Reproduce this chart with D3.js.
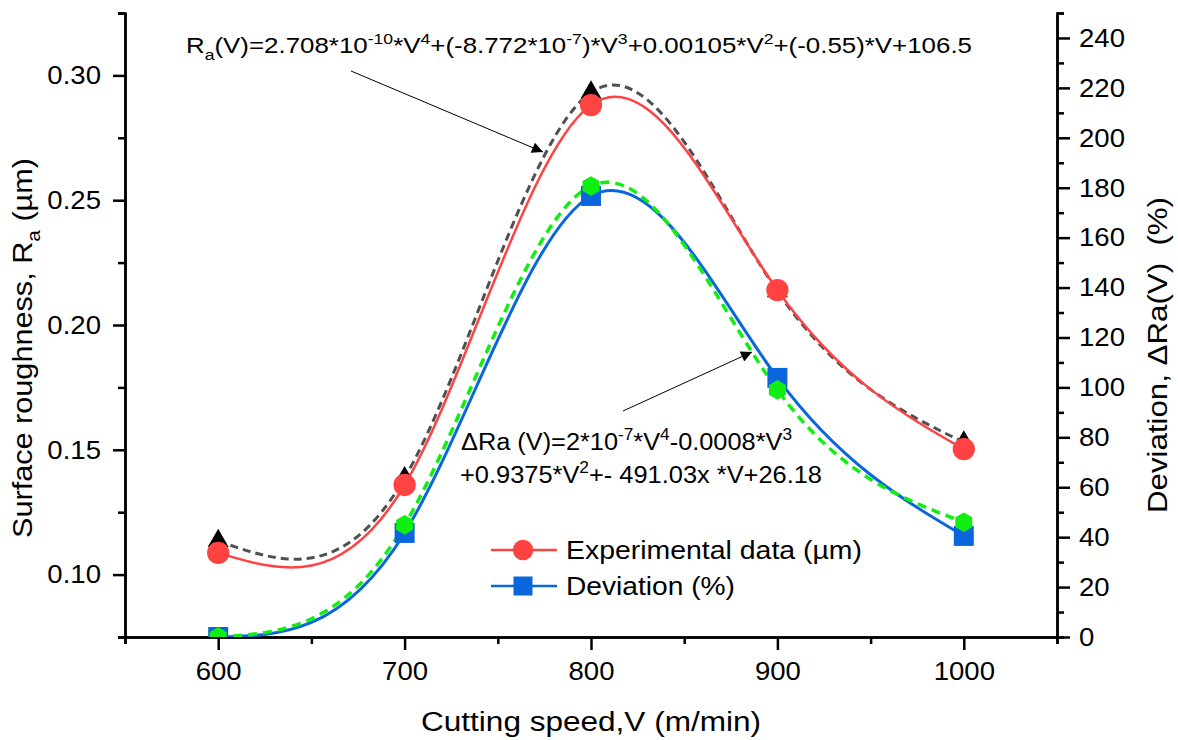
<!DOCTYPE html>
<html>
<head>
<meta charset="utf-8">
<script src="https://cdn.jsdelivr.net/npm/d3@7"></script>
<style>
  body { margin: 0; background: #fff; }
  svg { display: block; }
  text { font-family: "Liberation Sans", Arial, sans-serif; fill: #000; }
</style>
</head>
<body>
<svg id="chart" width="1178" height="740"></svg>
<script>
// cutting speed (m/min)
const speeds = [600, 700, 800, 900, 1000];
// surface roughness, experimental (red) and fitted (black dashed)
const raExp = [0.1087, 0.1359, 0.2881, 0.2140, 0.1503];
const raFit = [0.1135, 0.1387, 0.2932, 0.2135, 0.1530];
// deviation (%), measured (blue) and fitted (green dashed)
const devExp = [0, 41.7, 176.7, 103.8, 40.5];
const devFit = [0, 44.9, 180.7, 99.0, 46.0];

const xTicks = [600, 700, 800, 900, 1000];
const yLeftTicks = [0.10, 0.15, 0.20, 0.25, 0.30];
const yRightTicks = d3.range(0, 241, 20);

const svg = d3.select("#chart");
const M = {left: 125, right: 1057, top: 13, bottom: 637};

const x = d3.scaleLinear().domain([550, 1050]).range([M.left, M.right]);
const yL = d3.scaleLinear().domain([0.075, 0.325]).range([M.bottom, M.top]);
const yR = d3.scaleLinear().domain([0, 250]).range([M.bottom, M.top]);

const FONT = 26;

// stretch text a little, the source picture is wider than plain Arial
function widen(sel, k) {
  sel.each(function() {
    const w = this.getComputedTextLength();
    d3.select(this).attr("textLength", w * k).attr("lengthAdjust", "spacingAndGlyphs");
  });
}

// text with sub/superscripts, segs = [[text, "sup"|"sub"|null], ...]
function rich(textSel, segs, size) {
  let off = 0;
  segs.forEach(([t, mode]) => {
    const target = mode === "sup" ? -0.42 * size : mode === "sub" ? 0.3 * size : 0;
    textSel.append("tspan")
      .attr("dy", target - off)
      .style("font-size", mode ? (size * 0.68) + "px" : size + "px")
      .text(t);
    off = target;
  });
  return textSel;
}

svg.append("defs").append("clipPath").attr("id", "plot")
  .append("rect")
  .attr("x", M.left).attr("y", M.top)
  .attr("width", M.right - M.left).attr("height", M.bottom - M.top);

// ---- axes
const axisG = svg.append("g").attr("class", "axes");

const gx = axisG.append("g").attr("transform", `translate(0,${M.bottom})`)
  .call(d3.axisBottom(x).tickValues(xTicks).tickSizeInner(13).tickSizeOuter(0).tickPadding(12)
    .tickFormat(d3.format("d")));
axisG.append("g").attr("transform", `translate(0,${M.bottom})`)
  .call(d3.axisBottom(x).tickValues(d3.range(550, 1051, 100)).tickSize(7).tickFormat(""));

const gyL = axisG.append("g").attr("transform", `translate(${M.left},0)`)
  .call(d3.axisLeft(yL).tickValues(yLeftTicks).tickSizeInner(12).tickSizeOuter(0).tickPadding(12)
    .tickFormat(d3.format(".2f")));
axisG.append("g").attr("transform", `translate(${M.left},0)`)
  .call(d3.axisLeft(yL).tickValues([0.075, 0.125, 0.175, 0.225, 0.275, 0.325]).tickSize(7).tickFormat(""));

const gyR = axisG.append("g").attr("transform", `translate(${M.right},0)`)
  .call(d3.axisRight(yR).tickValues(yRightTicks).tickSizeInner(13).tickSizeOuter(0).tickPadding(9)
    .tickFormat(d3.format("d")));
axisG.append("g").attr("transform", `translate(${M.right},0)`)
  .call(d3.axisRight(yR).tickValues(d3.range(10, 251, 20)).tickSize(7).tickFormat(""));

axisG.selectAll("path.domain, .tick line").attr("stroke", "#000").attr("stroke-width", 2.5);
axisG.selectAll(".tick text")
  .style("font-size", FONT + "px")
  .style("font-family", "'Liberation Sans', Arial, sans-serif")
  .attr("fill", "#000");
widen(axisG.selectAll(".tick text"), 1.06);

// ---- curves
const plot = svg.append("g").attr("clip-path", "url(#plot)");

const lineL = vals => d3.line().curve(d3.curveNatural)
  .x((d, i) => x(speeds[i])).y(d => yL(d))(vals);
const lineR = vals => d3.line().curve(d3.curveNatural)
  .x((d, i) => x(speeds[i])).y(d => yR(d))(vals);

plot.append("path").attr("d", lineL(raFit)).attr("fill", "none")
  .attr("stroke", "#505050").attr("stroke-width", 3).attr("stroke-dasharray", "8,5");
plot.append("path").attr("d", lineL(raExp)).attr("fill", "none")
  .attr("stroke", "#ff4242").attr("stroke-width", 2.5);
plot.append("path").attr("d", lineR(devExp)).attr("fill", "none")
  .attr("stroke", "#0a66dd").attr("stroke-width", 3);
plot.append("path").attr("d", lineR(devFit)).attr("fill", "none")
  .attr("stroke", "#11ee11").attr("stroke-width", 3.5).attr("stroke-dasharray", "9,6");

const hexagon = {
  draw(ctx, size) {
    const r = Math.sqrt(size / (1.5 * Math.sqrt(3)));
    for (let k = 0; k < 6; k++) {
      const a = Math.PI / 2 + k * Math.PI / 3;
      const px = r * Math.cos(a), py = -r * Math.sin(a);
      k ? ctx.lineTo(px, py) : ctx.moveTo(px, py);
    }
    ctx.closePath();
  }
};

function markers(vals, scale, type, size, color) {
  plot.append("g").selectAll("path").data(vals).join("path")
    .attr("transform", (d, i) => `translate(${x(speeds[i])},${scale(d)})`)
    .attr("d", d3.symbol().type(type).size(size)())
    .attr("fill", color);
}
markers(raFit, yL, d3.symbolTriangle, 190, "#000");
markers(raExp, yL, d3.symbolCircle, 390, "#ff4242");
markers(devExp, yR, d3.symbolSquare, 400, "#0a66dd");
markers(devFit, yR, hexagon, 250, "#11ee11");

// ---- titles
svg.append("text")
  .attr("x", 591).attr("y", 731).attr("text-anchor", "middle")
  .style("font-size", "27px")
  .attr("textLength", 340).attr("lengthAdjust", "spacingAndGlyphs")
  .text("Cutting speed,V (m/min)");

rich(svg.append("text")
  .attr("transform", "translate(32,348) rotate(-90)")
  .attr("text-anchor", "middle")
  .attr("textLength", 380).attr("lengthAdjust", "spacingAndGlyphs"),
  [["Surface roughness, R", null], ["a", "sub"], [" (µm)", null]], 27);

svg.append("text")
  .attr("transform", "translate(1167,355) rotate(-90)")
  .attr("text-anchor", "middle")
  .style("font-size", "27px").style("white-space", "pre")
  .attr("textLength", 316).attr("lengthAdjust", "spacingAndGlyphs")
  .text("Deviation, \u0394Ra(V)  (%)");

// ---- equations
rich(svg.append("text").attr("x", 186).attr("y", 53)
  .attr("textLength", 786).attr("lengthAdjust", "spacingAndGlyphs"),
  [["R", null], ["a", "sub"], ["(V)=2.708*10", null], ["-10", "sup"], ["*V", null], ["4", "sup"],
   ["+(-8.772*10", null], ["-7", "sup"], [")*V", null], ["3", "sup"], ["+0.00105*V", null], ["2", "sup"],
   ["+(-0.55)*V+106.5", null]], 22);

rich(svg.append("text").attr("x", 461).attr("y", 450)
  .attr("textLength", 331).attr("lengthAdjust", "spacingAndGlyphs"),
  [["\u0394Ra (V)=2*10", null], ["-7", "sup"], ["*V", null], ["4", "sup"], ["-0.0008*V", null], ["3", "sup"]], 23);

rich(svg.append("text").attr("x", 460).attr("y", 483)
  .attr("textLength", 362).attr("lengthAdjust", "spacingAndGlyphs"),
  [["+0.9375*V", null], ["2", "sup"], ["+- 491.03x *V+26.18", null]], 23);

// ---- arrows
const defs = svg.select("defs");
defs.append("marker").attr("id", "head")
  .attr("viewBox", "0 0 10 10").attr("refX", 10).attr("refY", 5)
  .attr("markerWidth", 18).attr("markerHeight", 11).attr("markerUnits", "userSpaceOnUse")
  .attr("orient", "auto")
  .append("path").attr("d", "M0,0L10,5L0,10Z").attr("fill", "#000");

const arrows = [
  [[351, 71], [543, 152]],
  [[623, 411], [752, 352]]
];
svg.append("g").selectAll("line").data(arrows).join("line")
  .attr("x1", d => d[0][0]).attr("y1", d => d[0][1])
  .attr("x2", d => d[1][0]).attr("y2", d => d[1][1])
  .attr("stroke", "#000").attr("stroke-width", 1)
  .attr("marker-end", "url(#head)");

// ---- legend
const legendItems = [
  {label: "Experimental data (µm)", color: "#ff4242", sym: d3.symbolCircle, size: 330, w: 296},
  {label: "Deviation (%)", color: "#0a66dd", sym: d3.symbolSquare, size: 361, w: 169}
];
const lg = svg.append("g").attr("transform", "translate(491,550)");
legendItems.forEach((it, i) => {
  const g = lg.append("g").attr("transform", `translate(0,${i * 36})`);
  g.append("line").attr("x1", 0).attr("x2", 66).attr("stroke", it.color).attr("stroke-width", 2.5);
  g.append("path").attr("transform", "translate(32,0)")
    .attr("d", d3.symbol().type(it.sym).size(it.size)()).attr("fill", it.color);
  g.append("text").attr("x", 75).attr("y", 9)
    .style("font-size", "25px")
    .attr("textLength", it.w).attr("lengthAdjust", "spacingAndGlyphs")
    .text(it.label);
});
</script>
</body>
</html>
